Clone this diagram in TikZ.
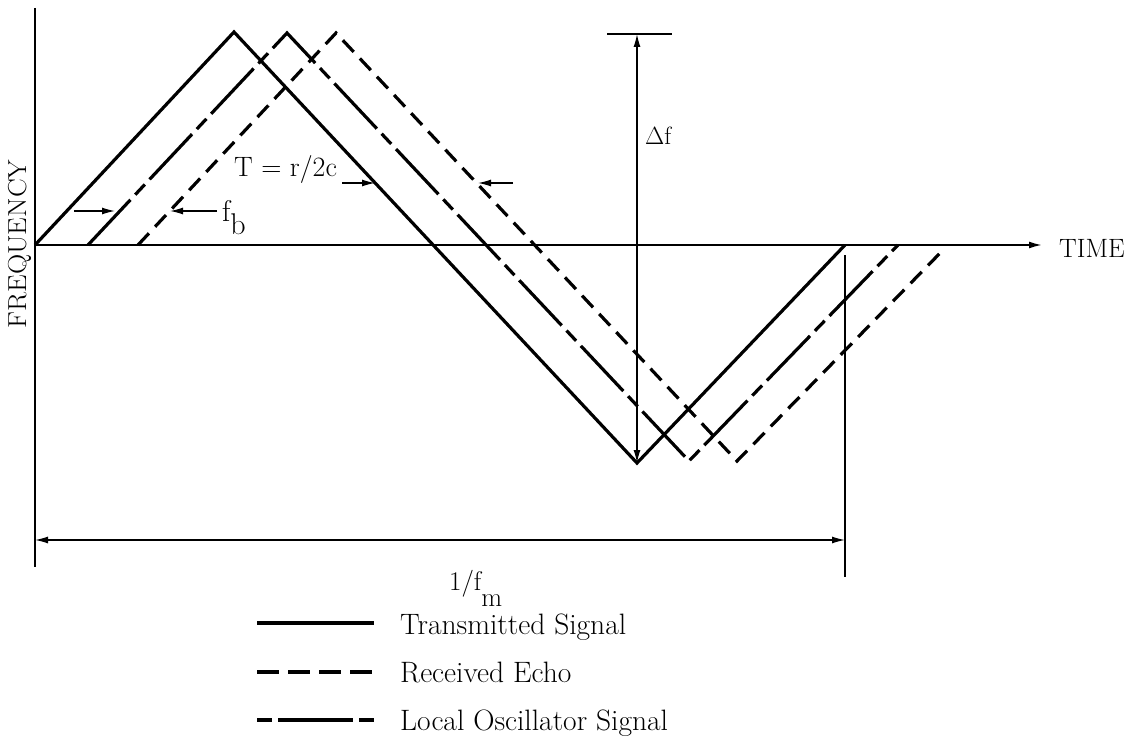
\documentclass[tikz,border=0pt]{standalone}
\usetikzlibrary{arrows.meta}
\begin{document}
\begin{tikzpicture}[x=1pt,y=-1pt,
  sig/.style={line width=3.2pt,line join=miter},
  tx/.style={sig},
  echo/.style={sig,dash pattern=on 16pt off 9pt},
  lo/.style={sig,dash pattern=on 62pt off 7pt on 14pt off 7pt},
  axis/.style={line width=1.8pt},
  thin/.style={line width=1.3pt},
  arr/.style={-{Latex[length=13pt,width=7pt]}},
  darr/.style={{Latex[length=13pt,width=7pt]}-{Latex[length=13pt,width=7pt]}},
  lbl/.style={inner sep=0pt,font=\fontsize{27}{30}\selectfont},
  leg/.style={inner sep=0pt,anchor=base west,font=\fontsize{29.5}{33}\selectfont}]
\useasboundingbox (0,0) rectangle (1136,749);
% axes
\coordinate (ytop) at (35,8);
\coordinate (ybot) at (35,567);
\coordinate (O) at (35,245);
\coordinate (xend) at (1042,245);
\draw[axis] (ytop) -- (ybot);
\draw[axis,arr] (O) -- (xend);
\node[lbl,anchor=base west,font=\fontsize{26.5}{30}\selectfont] (time) at (1059,257) {TIME};
\node[lbl,anchor=base,rotate=90] (freq) at (27,244) {\scalebox{1.08}[1]{\fontsize{26}{30}\selectfont FREQUENCY}};
% transmitted
\coordinate (t1) at (35,245); \coordinate (t2) at (234,32);
\coordinate (t3) at (637,463); \coordinate (t4) at (845,245);
\draw[tx] (t1) -- (t2) -- (t3) -- (t4);
% local oscillator
\coordinate (l1) at (88,245); \coordinate (l2) at (287,33);
\coordinate (l3) at (689,461); \coordinate (l4) at (898,245);
\draw[lo] (l1) -- (l2) -- (l3) -- (l4);
% received echo
\coordinate (e1) at (138,245); \coordinate (e2) at (336,33);
\coordinate (e3) at (737,461); \coordinate (e4) at (945,248);
\draw[echo] (e1) -- (e2) -- (e3) -- (e4);
% delta f
\coordinate (dfl) at (607,34); \coordinate (dfr) at (672,34);
\coordinate (dft) at (637,34); \coordinate (dfb) at (637,463);
\draw[thin] (dfl) -- (dfr);
\draw[thin,darr] (dfb) -- (dft);
\node[lbl,anchor=base west,font=\fontsize{25}{28}\selectfont] (df) at (645,145) {$\Delta$f};
% period
\coordinate (rvt) at (845,255); \coordinate (rvb) at (845,577);
\draw[thin] (rvt) -- (rvb);
\coordinate (pl) at (35,540); \coordinate (pr) at (845,540);
\draw[thin,darr] (pl) -- (pr);
\node[lbl,anchor=base west] (fm) at (449,590) {1/f\raisebox{-16pt}{m}};
% f_b arrows
\coordinate (fa1) at (74,211); \coordinate (fa2) at (115,211);
\coordinate (fb1) at (217,211); \coordinate (fb2) at (170,211);
\draw[thin,arr] (fa1) -- (fa2);
\draw[thin,arr] (fb1) -- (fb2);
\node[lbl,anchor=base west,font=\fontsize{30}{33}\selectfont] (fb) at (222,222) {f\raisebox{-13pt}{b}};
% T arrows
\coordinate (ta1) at (342,183); \coordinate (ta2) at (375,183);
\coordinate (tb1) at (513,183); \coordinate (tb2) at (478,183);
\draw[thin,arr] (ta1) -- (ta2);
\draw[thin,arr] (tb1) -- (tb2);
\node[lbl,anchor=base west,font=\fontsize{28}{31}\selectfont] (T) at (234,177) {T = r/2c};
% legend
\coordinate (g1a) at (257,623); \coordinate (g1b) at (374,623);
\coordinate (g2a) at (257,672); \coordinate (g2b) at (374,672);
\coordinate (g3a) at (257,720); \coordinate (g3b) at (374,720);
\draw[line width=3.5pt] (g1a) -- (g1b);
\draw[line width=3.5pt,dash pattern=on 22pt off 9pt] (g2a) -- (g2b);
\draw[line width=3.5pt,dash pattern=on 15pt off 6pt on 75pt off 6pt] (g3a) -- (g3b);
\node[leg] (lg1) at (400,634) {Transmitted Signal};
\node[leg] (lg2) at (400,682) {Received Echo};
\node[leg] (lg3) at (400,730) {Local Oscillator Signal};
\end{tikzpicture}
\end{document}
